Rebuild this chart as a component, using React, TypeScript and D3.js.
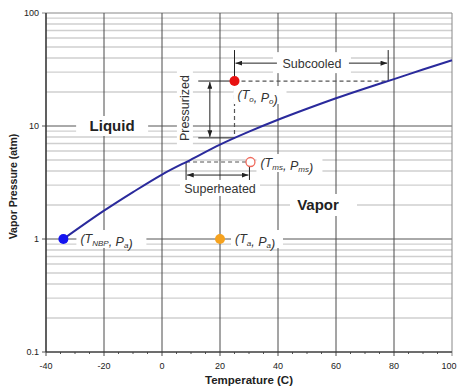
import React from "react";
import * as d3 from "d3";

// vapour pressure curve
const temps = [-34, -20, -10, 0, 10, 20, 30, 40, 50, 60, 70, 80, 90, 100];
const pressures = [1.0, 1.78, 2.6, 3.72, 5.05, 6.84, 8.91, 11.35, 14.2, 17.6, 21.5, 26.0, 31.6, 38.2];

const xTicks = [-40, -20, 0, 20, 40, 60, 80, 100];
const yTicks = [0.1, 1, 10, 100];
const yTickLabels = ["0.1", "1", "10", "100"];

// state points [T, P]
const pNBP = [-34, 1];
const pAmb = [20, 1];
const pOp = [25, 25];
const pMs = [30.5, 4.8];
// where the curve meets the operating lines
const subcooledEndT = 78;
const pressurizedLowP = 7.85;
const superheatedStartT = 8.3;

const W = 457;
const H = 389;
const margin = { top: 13, right: 5, bottom: 37, left: 46 };

const x = d3.scaleLinear().domain([-40, 100]).range([margin.left, W - margin.right]);
const y = d3.scaleLog().domain([0.1, 100]).range([H - margin.bottom, margin.top]);

const FONT = "Arial, 'Liberation Sans', Helvetica, sans-serif";

function Sub({ main, sub }: { main: string; sub: string }) {
  return (
    <>
      <tspan>{main}</tspan>
      <tspan fontSize="8" dy="2.5">{sub}</tspan>
      <tspan dy="-2.5"></tspan>
    </>
  );
}

function StateLabel({ x0, y0, t, p, w }: { x0: number; y0: number; t: string; p: string; w: number }) {
  return (
    <g>
      <rect x={x0 - 4} y={y0 - 9} width={w + 8} height={18} fill="white" />
      <text x={x0} y={y0 + 4} fontSize="12.5" fontStyle="italic" fill="#333" fontFamily={FONT}>
        (<Sub main="T" sub={t} />, <Sub main="P" sub={p} />)
      </text>
    </g>
  );
}

export default function App() {
  const line = d3
    .line<number>()
    .x((_, i) => x(temps[i]))
    .y((d) => y(d))
    .curve(d3.curveMonotoneX);

  const minorY: number[] = [];
  [0.1, 1, 10].forEach((dec) => {
    for (let k = 2; k <= 9; k++) minorY.push(dec * k);
  });
  const minorX = d3.range(-40, 101, 5).filter((t) => t % 20 !== 0);

  const x0 = x.range()[0];
  const x1 = x.range()[1];
  const y0 = y.range()[0];
  const y1 = y.range()[1];

  const opX = x(pOp[0]);
  const opY = y(pOp[1]);
  const msX = x(pMs[0]);
  const msY = y(pMs[1]);
  const pressX = x(16.5);
  const pressBarL = x(12.5);
  const subTop = y(47);
  const subArrowY = y(36);
  const supArrowY = y(3.68);
  const supBottom = y(3.33);

  return (
    <svg width={W} height={H} style={{ position: "absolute", left: 0, top: 0, background: "white" }}>
      <defs>
        <marker id="ah" viewBox="0 0 8 6" refX="8" refY="3" markerWidth="7" markerHeight="5" orient="auto-start-reverse" markerUnits="userSpaceOnUse">
          <path d="M0,0 L8,3 L0,6 z" fill="#222" />
        </marker>
      </defs>

      {/* minor horizontal grid */}
      {minorY.map((v) => (
        <line key={"mh" + v} x1={x0} x2={x1} y1={y(v)} y2={y(v)} stroke="#cfcfcf" strokeWidth={1.4} />
      ))}
      {/* major horizontal grid */}
      {yTicks.map((v) => (
        <line key={"h" + v} x1={x0 - 4} x2={x1} y1={y(v)} y2={y(v)} stroke={v === 100 ? "#888" : "#555"} strokeWidth={1} />
      ))}
      {/* vertical grid */}
      {xTicks.map((t) => (
        <line key={"v" + t} x1={x(t)} x2={x(t)} y1={y1} y2={y0 + 4} stroke={t === 100 ? "#888" : "#4a4a4a"} strokeWidth={1} />
      ))}
      {minorX.map((t) => (
        <line key={"mx" + t} x1={x(t)} x2={x(t)} y1={y0} y2={y0 + 2} stroke="#555" strokeWidth={1} />
      ))}
      {/* axes */}
      <line x1={x0} x2={x0} y1={y1} y2={y0} stroke="#333" strokeWidth={1.2} />
      <line x1={x0} x2={x1} y1={y0} y2={y0} stroke="#333" strokeWidth={1.2} />

      {/* tick labels */}
      {xTicks.map((t) => (
        <text key={"xl" + t} x={Math.min(x(t), W - 8)} y={y0 + 17} textAnchor="middle" fontSize="9" fill="#222" fontFamily={FONT}>
          {t}
        </text>
      ))}
      {yTicks.map((v, i) => (
        <text key={"yl" + v} x={x0 - 7} y={y(v) + 3} textAnchor="end" fontSize="9" fill="#222" fontFamily={FONT}>
          {yTickLabels[i]}
        </text>
      ))}
      <text x={(x0 + x1) / 2} y={H - 5} textAnchor="middle" fontSize="11.5" fontWeight="bold" fill="#222" fontFamily={FONT}>
        Temperature (C)
      </text>
      <text transform={`translate(17,${(y0 + y1) / 2 + 4}) rotate(-90)`} textAnchor="middle" fontSize="10.5" fontWeight="bold" fill="#222" fontFamily={FONT}>
        Vapor Pressure (atm)
      </text>

      {/* region labels */}
      <rect x={x(-17.2) - 36} y={y(10) - 10} width={72} height={20} fill="white" />
      <text x={x(-17.2)} y={y(10) + 5} textAnchor="middle" fontSize="15" fontWeight="bold" fill="#222" fontFamily={FONT}>
        Liquid
      </text>
      <rect x={x(53.8) - 28} y={y(2.0) - 11} width={67} height={22} fill="white" />
      <text x={x(53.8)} y={y(2.0) + 5} textAnchor="middle" fontSize="15" fontWeight="bold" fill="#222" fontFamily={FONT}>
        Vapor
      </text>

      {/* subcooled */}
      <rect x={x(51.7) - 39} y={subArrowY - 11} width={78} height={21} fill="white" />
      <text x={x(51.7)} y={subArrowY + 4.5} textAnchor="middle" fontSize="12.5" fill="#333" fontFamily={FONT}>
        Subcooled
      </text>
      <line x1={opX} x2={opX} y1={subTop} y2={opY} stroke="#222" strokeWidth={1} />
      <line x1={x(subcooledEndT)} x2={x(subcooledEndT)} y1={subTop} y2={opY} stroke="#222" strokeWidth={1} />
      <line x1={x(51.7) - 35} x2={opX + 1} y1={subArrowY} y2={subArrowY} stroke="#222" strokeWidth={1} markerEnd="url(#ah)" />
      <line x1={x(51.7) + 37} x2={x(subcooledEndT) - 1} y1={subArrowY} y2={subArrowY} stroke="#222" strokeWidth={1} markerEnd="url(#ah)" />

      {/* pressurized */}
      <rect x={x(7.9) - 8} y={y(14.4) - 38} width={16} height={76} fill="white" />
      <text transform={`translate(${x(7.9) + 4.5},${y(14.4)}) rotate(-90)`} textAnchor="middle" fontSize="12.5" fill="#333" fontFamily={FONT}>
        Pressurized
      </text>
      <line x1={pressBarL} x2={opX} y1={opY} y2={opY} stroke="#222" strokeWidth={1} />
      <line x1={pressBarL} x2={opX} y1={y(pressurizedLowP)} y2={y(pressurizedLowP)} stroke="#222" strokeWidth={1} />
      <line x1={pressX} x2={pressX} y1={opY + 1} y2={y(pressurizedLowP) - 1} stroke="#222" strokeWidth={1} markerStart="url(#ah)" markerEnd="url(#ah)" />
      <line x1={opX} x2={opX} y1={opY} y2={y(pressurizedLowP)} stroke="#555" strokeWidth={1.2} strokeDasharray="4,3" />
      <line x1={opX} x2={x(subcooledEndT)} y1={opY} y2={opY} stroke="#555" strokeWidth={1.2} strokeDasharray="4,3" />

      {/* superheated */}
      <rect x={x(20) - 40} y={y(2.83) - 8} width={80} height={16} fill="white" />
      <text x={x(20)} y={y(2.83) + 5} textAnchor="middle" fontSize="12.5" fill="#333" fontFamily={FONT}>
        Superheated
      </text>
      <line x1={x(superheatedStartT)} x2={msX} y1={msY} y2={msY} stroke="#555" strokeWidth={1.2} strokeDasharray="4,3" />
      <line x1={x(superheatedStartT)} x2={x(superheatedStartT)} y1={msY} y2={supBottom} stroke="#222" strokeWidth={1} />
      <line x1={msX - 1} x2={msX - 1} y1={msY + 4} y2={supBottom} stroke="#222" strokeWidth={1} />
      <line x1={x(superheatedStartT) + 1} x2={msX - 2} y1={supArrowY} y2={supArrowY} stroke="#222" strokeWidth={1} markerStart="url(#ah)" markerEnd="url(#ah)" />

      {/* state labels */}
      <StateLabel x0={x(pNBP[0]) + 17} y0={y(pNBP[1])} t="NBP" p="a" w={62} />
      <StateLabel x0={x(pAmb[0]) + 15} y0={y(pAmb[1])} t="a" p="a" w={44} />
      <StateLabel x0={opX + 3} y0={opY + 14} t="o" p="o" w={45} />
      <StateLabel x0={msX + 10} y0={msY + 1} t="ms" p="ms" w={58} />

      {/* vapour pressure curve */}
      <path d={line(pressures) ?? ""} fill="none" stroke="#2a2a9c" strokeWidth={2} />

      {/* state points */}
      <circle cx={x(pNBP[0])} cy={y(pNBP[1])} r={5} fill="#1414f0" />
      <circle cx={x(pAmb[0])} cy={y(pAmb[1])} r={5} fill="#f5a21f" />
      <circle cx={opX} cy={opY} r={5} fill="#e81212" />
      <circle cx={msX} cy={msY} r={4.5} fill="white" stroke="#f06a5c" strokeWidth={1.3} />
    </svg>
  );
}
